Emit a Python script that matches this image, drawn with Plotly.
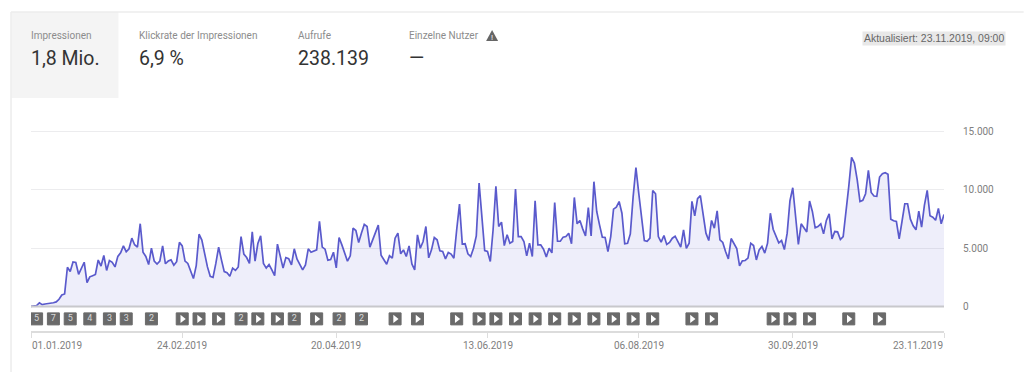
import pandas as pd
import plotly.graph_objects as go

start_date = "2019-01-01"
impressions = [
    20,50,90,320,170,220,250,250,330,400,630,1000,1080,3370,3000,3830,3780,2770,3250,3800,
    2050,2550,2650,2750,3990,3470,4380,3100,3950,3800,3400,4300,4600,5200,4700,4950,5860,5300,5100,7100,
    4650,4300,3600,5000,3900,3650,3900,5200,3670,3900,4000,3550,3850,5500,5200,3900,3700,3100,2400,3500,
    6200,5700,4500,3400,2600,2500,3700,5100,4000,3000,2900,2600,3300,3100,3400,6000,4500,4200,3700,6400,
    3900,5400,6060,3700,3300,3600,3150,2650,5350,4300,3300,4200,4100,3570,4950,4060,3630,3150,3570,4950,
    4660,4780,4860,7300,5100,4920,3980,4030,4660,3320,5920,5290,4500,3890,4350,6720,6520,5490,6300,7040,
    6860,5090,5720,6290,6980,4400,4060,3630,4350,4150,5860,6290,4520,4860,4290,5200,3660,3150,6150,5000,
    5580,6860,4180,4860,5920,5720,4780,4720,4090,4630,4500,4150,6580,8780,5350,5380,4520,4290,5000,6060,
    10580,8000,4800,4720,3860,6580,10300,6860,7240,5230,6150,5430,5580,10070,6000,6000,5580,4350,5430,4290,
    9070,5290,5290,4920,4260,5000,4600,8920,5600,5600,5950,6000,6290,5380,9350,7090,7380,6660,6060,8490,
    6060,10700,8150,7000,5950,5920,4720,6000,8350,8520,9000,8000,5380,5430,6230,9400,11900,9720,7440,5660,
    5600,5860,9950,9670,6000,5520,6090,5320,5490,5860,6030,5490,5090,6580,4980,5430,9010,7780,9240,9500,
    7870,6290,5660,7380,6720,8200,5720,5490,4720,4090,5830,5430,4980,3490,3920,3950,4150,5430,5230,4000,
    4860,5150,4580,5430,8000,6630,5950,5460,5660,4890,6290,9070,10180,7720,5320,7090,6720,6400,9040,8150,
    6750,6860,7090,6230,7380,7950,5800,6430,6400,5750,6000,8000,10300,12780,12300,10870,9000,9100,9670,11670,
    9780,9470,9440,11100,11380,11470,11330,7490,7350,7290,5800,7290,8810,8810,7490,6920,6580,8180,6800,8670,
    9950,7780,7660,7400,8410,7090,7890,
]
x_tick_dates = ["2019-01-01","2019-02-24","2019-04-20","2019-06-13","2019-08-06","2019-09-30","2019-11-23"]
x_tick_labels = ["01.01.2019","24.02.2019","20.04.2019","13.06.2019","06.08.2019","30.09.2019","23.11.2019"]
y_tick_values = [0, 5000, 10000, 15000]
y_tick_labels = ["0", "5.000", "10.000", "15.000"]
event_days = [2,8,14,21,28,34,43,54,60,67,75,81,88,94,102,110,118,130,138,152,160,166,173,180,187,194,201,208,215,222,236,243,265,271,278,292,303]
event_labels = ["5","7","5","4","3","3","2","","","","2","","","2","","2","2","","","","","","","","","","","","","","","","","","","",""]
metric_names = ["Impressionen","Klickrate der Impressionen","Aufrufe","Einzelne Nutzer"]
metric_values = ["1,8 Mio.","6,9 %","238.139","—"]
updated_label = "Aktualisiert: 23.11.2019, 09:00"

W, H = 1024, 372
L, R, T, B = 30.5, 944.3, 127.0, 331.0
px = lambda v: (v - L) / (R - L)
py = lambda v: (B - v) / (B - T)

dates = pd.date_range(start_date, periods=len(impressions), freq="D")
event_dates = [pd.Timestamp(start_date) + pd.Timedelta(days=d) for d in event_days]
EVENT_Y = -1053
GRAY = "#6a6a6a"
fig = go.Figure()
fig.add_trace(go.Scatter(x=dates, y=impressions, mode="lines", fill="tozeroy",
                         fillcolor="rgba(92,92,205,0.105)",
                         line=dict(color="#5a5acc", width=1.7), hoverinfo="skip", cliponaxis=False))
fig.add_trace(go.Scatter(x=event_dates, y=[EVENT_Y]*len(event_dates), mode="markers+text",
                         marker=dict(symbol="square", size=12, color=GRAY, line=dict(color=GRAY, width=1)),
                         text=event_labels, textposition="middle center",
                         textfont=dict(family="Roboto", size=9, color="#d8d8d8"), hoverinfo="skip"))
play_dates = [d for d, l in zip(event_dates, event_labels) if l == ""]
fig.add_trace(go.Scatter(x=play_dates, y=[EVENT_Y]*len(play_dates), mode="markers",
                         marker=dict(symbol="triangle-right", size=7, color="white"), hoverinfo="skip"))

shapes = [
    dict(type="rect", xref="paper", yref="paper", x0=px(11), x1=px(118), y0=py(12), y1=py(98),
         fillcolor="#f4f4f4", line_width=0, layer="below"),
    dict(type="line", xref="paper", yref="paper", x0=px(10.5), x1=px(1024), y0=py(12), y1=py(12),
         line=dict(color="#ececec", width=1.5), layer="below"),
    dict(type="line", xref="paper", yref="paper", x0=px(10.5), x1=px(10.5), y0=py(12), y1=py(372),
         line=dict(color="#ececec", width=1.5), layer="below"),
    dict(type="line", xref="paper", yref="y", x0=0, x1=1, y0=0, y1=0,
         line=dict(color="#c8c8cc", width=2), layer="above"),
    dict(type="path", xref="paper", yref="paper", fillcolor="#666666", line_width=0,
         path=f"M {px(486)} {py(41)} L {px(498)} {py(41)} L {px(492)} {py(30)} Z"),
]
annotations = []
def label(x, y, text, size, color, anchor="left", family="Roboto", pad=0, **kw):
    annotations.append(dict(xref="paper", yref="paper", x=px(x), y=py(y), text=text, showarrow=False,
                            xanchor=anchor, yanchor="middle", font=dict(family=family, size=size, color=color),
                            borderpad=pad, **kw))
for x, n, v in zip([30.5, 138.5, 298, 408.5], metric_names, metric_values):
    label(x - 1, 35.5, n, 10, "#8c8c8c")
    label(x - 1, 58.5, v, 19.5, "#333333")
label(492, 37, "!", 8, "#ffffff", anchor="center")
label(1006, 38.5, updated_label, 10.45, "#666666", anchor="right", family="Liberation Sans", bgcolor="#e8e8e8", pad=1)
for i, (d, t) in enumerate(zip(x_tick_dates, x_tick_labels)):
    anchor = "left" if i == 0 else "right" if i == len(x_tick_dates) - 1 else "center"
    annotations.append(dict(x=d, xref="x", yref="paper", y=py(345), text=t, showarrow=False,
                            xanchor=anchor, yanchor="middle", borderpad=0,
                            font=dict(family="Roboto", size=10, color="#808080")))

fig.update_layout(
    width=W, height=H, margin=dict(l=L, r=W - R, t=T, b=H - B, autoexpand=False),
    paper_bgcolor="white", plot_bgcolor="white", showlegend=False,
    shapes=shapes, annotations=annotations,
    xaxis=dict(type="date", range=[dates[0], dates[-1]], tickvals=x_tick_dates, showticklabels=False,
               ticks="outside", ticklen=5, tickwidth=1, tickcolor="#dddddd", showgrid=False,
               showline=True, linecolor="#dcdcdc", linewidth=1.5, zeroline=False),
    yaxis=dict(range=[-2090, 15385], side="right", tickvals=y_tick_values, ticktext=y_tick_labels,
               ticks="outside", ticklen=16, tickcolor="rgba(0,0,0,0)", showgrid=True, gridcolor="#ececee",
               gridwidth=1, zeroline=False, showline=False,
               tickfont=dict(family="Roboto", size=10, color="#808080")),
)
fig.write_html("out.html", post_script="document.body.style.margin='0';", config=dict(displayModeBar=False))
